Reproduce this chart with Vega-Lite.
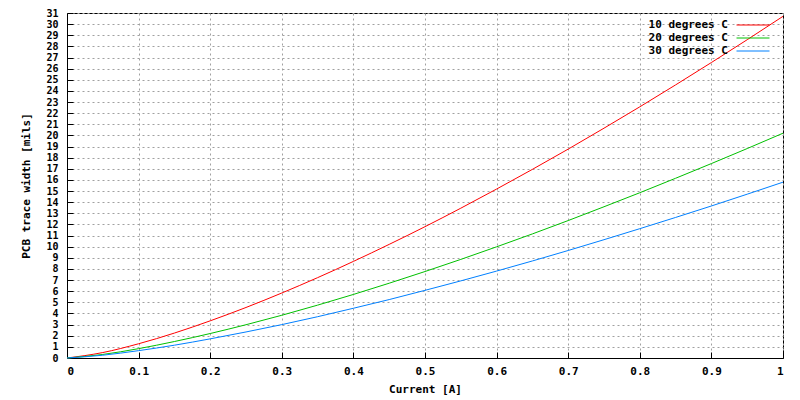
{
  "$schema": "https://vega.github.io/schema/vega-lite/v6.json",
  "width": 716,
  "height": 345,
  "autosize": "none",
  "padding": {"left": 67, "top": 13, "right": 17, "bottom": 42},
  "background": "white",
  "config": {
    "font": "DejaVu Sans Mono",
    "view": {"stroke": "black", "strokeWidth": 1},
    "axis": {
      "labelFont": "DejaVu Sans Mono",
      "labelFontWeight": "bold",
      "labelFontSize": 11,
      "labelColor": "black",
      "titleFont": "DejaVu Sans Mono",
      "titleFontWeight": "bold",
      "titleFontSize": 11,
      "titleColor": "black",
      "domainColor": "black",
      "tickColor": "black",
      "tickSize": -6,
      "gridColor": "#a0a0a0",
      "gridDash": [2, 3],
      "gridWidth": 1
    }
  },
  "data": {
    "values": [
      {"I": 0, "w": 0, "s": "10 degrees C"},
      {"I": 0.05, "w": 0.49, "s": "10 degrees C"},
      {"I": 0.1, "w": 1.28, "s": "10 degrees C"},
      {"I": 0.15, "w": 2.24, "s": "10 degrees C"},
      {"I": 0.2, "w": 3.34, "s": "10 degrees C"},
      {"I": 0.25, "w": 4.54, "s": "10 degrees C"},
      {"I": 0.3, "w": 5.84, "s": "10 degrees C"},
      {"I": 0.35, "w": 7.22, "s": "10 degrees C"},
      {"I": 0.4, "w": 8.68, "s": "10 degrees C"},
      {"I": 0.45, "w": 10.21, "s": "10 degrees C"},
      {"I": 0.5, "w": 11.8, "s": "10 degrees C"},
      {"I": 0.55, "w": 13.46, "s": "10 degrees C"},
      {"I": 0.6, "w": 15.18, "s": "10 degrees C"},
      {"I": 0.65, "w": 16.95, "s": "10 degrees C"},
      {"I": 0.7, "w": 18.77, "s": "10 degrees C"},
      {"I": 0.75, "w": 20.65, "s": "10 degrees C"},
      {"I": 0.8, "w": 22.57, "s": "10 degrees C"},
      {"I": 0.85, "w": 24.54, "s": "10 degrees C"},
      {"I": 0.9, "w": 26.55, "s": "10 degrees C"},
      {"I": 0.95, "w": 28.6, "s": "10 degrees C"},
      {"I": 1, "w": 30.7, "s": "10 degrees C"},
      {"I": 0, "w": 0, "s": "20 degrees C"},
      {"I": 0.05, "w": 0.32, "s": "20 degrees C"},
      {"I": 0.1, "w": 0.84, "s": "20 degrees C"},
      {"I": 0.15, "w": 1.48, "s": "20 degrees C"},
      {"I": 0.2, "w": 2.2, "s": "20 degrees C"},
      {"I": 0.25, "w": 2.99, "s": "20 degrees C"},
      {"I": 0.3, "w": 3.84, "s": "20 degrees C"},
      {"I": 0.35, "w": 4.75, "s": "20 degrees C"},
      {"I": 0.4, "w": 5.71, "s": "20 degrees C"},
      {"I": 0.45, "w": 6.72, "s": "20 degrees C"},
      {"I": 0.5, "w": 7.77, "s": "20 degrees C"},
      {"I": 0.55, "w": 8.86, "s": "20 degrees C"},
      {"I": 0.6, "w": 9.99, "s": "20 degrees C"},
      {"I": 0.65, "w": 11.15, "s": "20 degrees C"},
      {"I": 0.7, "w": 12.35, "s": "20 degrees C"},
      {"I": 0.75, "w": 13.59, "s": "20 degrees C"},
      {"I": 0.8, "w": 14.85, "s": "20 degrees C"},
      {"I": 0.85, "w": 16.15, "s": "20 degrees C"},
      {"I": 0.9, "w": 17.47, "s": "20 degrees C"},
      {"I": 0.95, "w": 18.82, "s": "20 degrees C"},
      {"I": 1, "w": 20.2, "s": "20 degrees C"},
      {"I": 0, "w": 0, "s": "30 degrees C"},
      {"I": 0.05, "w": 0.25, "s": "30 degrees C"},
      {"I": 0.1, "w": 0.66, "s": "30 degrees C"},
      {"I": 0.15, "w": 1.15, "s": "30 degrees C"},
      {"I": 0.2, "w": 1.72, "s": "30 degrees C"},
      {"I": 0.25, "w": 2.34, "s": "30 degrees C"},
      {"I": 0.3, "w": 3.0, "s": "30 degrees C"},
      {"I": 0.35, "w": 3.71, "s": "30 degrees C"},
      {"I": 0.4, "w": 4.47, "s": "30 degrees C"},
      {"I": 0.45, "w": 5.25, "s": "30 degrees C"},
      {"I": 0.5, "w": 6.08, "s": "30 degrees C"},
      {"I": 0.55, "w": 6.93, "s": "30 degrees C"},
      {"I": 0.6, "w": 7.81, "s": "30 degrees C"},
      {"I": 0.65, "w": 8.72, "s": "30 degrees C"},
      {"I": 0.7, "w": 9.66, "s": "30 degrees C"},
      {"I": 0.75, "w": 10.63, "s": "30 degrees C"},
      {"I": 0.8, "w": 11.62, "s": "30 degrees C"},
      {"I": 0.85, "w": 12.63, "s": "30 degrees C"},
      {"I": 0.9, "w": 13.66, "s": "30 degrees C"},
      {"I": 0.95, "w": 14.72, "s": "30 degrees C"},
      {"I": 1, "w": 15.8, "s": "30 degrees C"}
    ]
  },
  "mark": {"type": "line", "strokeWidth": 1, "interpolate": "monotone"},
  "encoding": {
    "x": {
      "field": "I", "type": "quantitative",
      "scale": {"domain": [0, 1], "nice": false},
      "axis": {
        "title": "Current [A]",
        "values": [0, 0.1, 0.2, 0.3, 0.4, 0.5, 0.6, 0.7, 0.8, 0.9, 1],
        "labelExpr": "datum.value == 0 ? '0' : datum.value == 1 ? '1' : format(datum.value, '.1f')",
        "labelPadding": 13,
        "titlePadding": 7,
        "grid": true
      }
    },
    "y": {
      "field": "w", "type": "quantitative",
      "scale": {"domain": [0, 31], "nice": false},
      "axis": {
        "title": "PCB trace width [mils]",
        "values": [0,1,2,3,4,5,6,7,8,9,10,11,12,13,14,15,16,17,18,19,20,21,22,23,24,25,26,27,28,29,30,31],
        "format": "d",
        "labelFontSize": 10,
        "labelPadding": 15,
        "titlePadding": 14,
        "grid": true
      }
    },
    "color": {
      "field": "s", "type": "nominal",
      "scale": {"domain": ["10 degrees C", "20 degrees C", "30 degrees C"], "range": ["#ff0000", "#00c000", "#0080ff"]},
      "legend": {
        "title": null,
        "orient": "none",
        "legendX": 680,
        "legendY": 6,
        "symbolType": "M-3,0H3",
        "symbolSize": 121,
        "symbolStrokeWidth": 1,
        "labelFont": "DejaVu Sans Mono",
        "labelFontWeight": "bold",
        "labelFontSize": 11,
        "labelColor": "black",
        "labelAlign": "right",
        "labelOffset": -31,
        "rowPadding": 2,
        "padding": 0
      }
    }
  }
}
